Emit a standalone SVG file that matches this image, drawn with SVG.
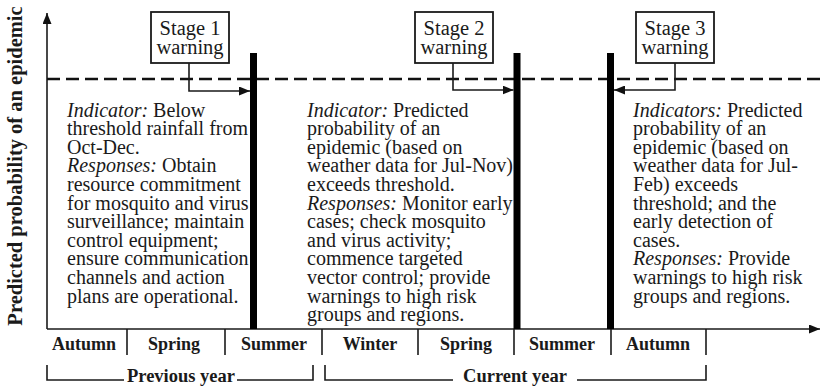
<svg xmlns="http://www.w3.org/2000/svg" width="820" height="386" viewBox="0 0 820 386">
  <style>
    .serif { font-family: "Liberation Serif", "Times New Roman", serif; fill: #1a1a1a; }
    .body { font-size: 20px; }
    .stage { font-size: 20.5px; text-anchor: middle; }
    .season { font-size: 18px; font-weight: bold; text-anchor: middle; }
    .year { font-size: 18.5px; font-weight: bold; text-anchor: middle; }
    .ylabel { font-size: 20.5px; font-weight: bold; text-anchor: middle; }
    .it { font-style: italic; }
    .line { stroke: #1a1a1a; stroke-width: 1.6; fill: none; }
    .box { stroke: #1a1a1a; stroke-width: 1.8; fill: #ffffff; }
    .bar { fill: #000000; }
    .dash { stroke: #111; stroke-width: 2.6; stroke-dasharray: 13 6; fill: none; }
  </style>
  <defs>
    <marker id="arrow" markerUnits="userSpaceOnUse" markerWidth="11" markerHeight="9" refX="11" refY="4.5" orient="auto">
      <path d="M0,0 L11,4.5 L0,9 Z" fill="#111"/>
    </marker>
  </defs>

  <rect width="820" height="386" fill="#ffffff"/>

  <!-- axes -->
  <g id="axes">
    <line class="line" x1="47" y1="329" x2="47" y2="13" marker-end="url(#arrow)"/>
    <line class="line" x1="47" y1="329" x2="820" y2="329" marker-end="url(#arrow)"/>
    <text class="serif ylabel" transform="translate(22,166) rotate(-90)">Predicted probability of an epidemic</text>
  </g>

  <!-- epidemic threshold -->
  <g id="threshold">
    <line class="dash" x1="47" y1="79" x2="820" y2="79"/>
  </g>

  <!-- warning bars -->
  <g id="bars">
    <rect class="bar" x="250" y="53" width="7" height="276"/>
    <rect class="bar" x="513.5" y="53" width="7" height="276"/>
    <rect class="bar" x="607" y="53" width="7" height="276"/>
  </g>

  <!-- connectors -->
  <g id="connectors">
    <polyline class="line" points="189,63 189,91 250,91" marker-end="url(#arrow)"/>
    <polyline class="line" points="453,63 453,90 513.5,90" marker-end="url(#arrow)"/>
    <polyline class="line" points="675,63 675,90 614,90" marker-end="url(#arrow)"/>
  </g>

  <!-- stage boxes -->
  <g id="stage1">
    <rect class="box" x="151" y="12" width="78" height="51"/>
    <text class="serif stage" x="190" y="34.5">Stage 1</text>
    <text class="serif stage" x="190" y="54">warning</text>
  </g>
  <g id="stage2">
    <rect class="box" x="415" y="12" width="78" height="51"/>
    <text class="serif stage" x="454" y="34.5">Stage 2</text>
    <text class="serif stage" x="454" y="54">warning</text>
  </g>
  <g id="stage3">
    <rect class="box" x="636" y="12" width="78" height="51"/>
    <text class="serif stage" x="675" y="34.5">Stage 3</text>
    <text class="serif stage" x="675" y="54">warning</text>
  </g>

  <!-- stage descriptions -->
  <g id="text1">
    <text class="serif body" x="67" y="116.5">
      <tspan class="it">Indicator:</tspan> Below
      <tspan x="67" dy="18.6">threshold rainfall from</tspan>
      <tspan x="67" dy="18.6">Oct-Dec.</tspan>
      <tspan x="67" dy="18.6" class="it">Responses:</tspan> Obtain
      <tspan x="67" dy="18.6">resource commitment</tspan>
      <tspan x="67" dy="18.6">for mosquito and virus</tspan>
      <tspan x="67" dy="18.6">surveillance; maintain</tspan>
      <tspan x="67" dy="18.6">control equipment;</tspan>
      <tspan x="67" dy="18.6">ensure communication</tspan>
      <tspan x="67" dy="18.6">channels and action</tspan>
      <tspan x="67" dy="18.6">plans are operational.</tspan>
    </text>
  </g>
  <g id="text2">
    <text class="serif body" x="307" y="116.5">
      <tspan class="it">Indicator:</tspan> Predicted
      <tspan x="307" dy="18.6">probability of an</tspan>
      <tspan x="307" dy="18.6">epidemic (based on</tspan>
      <tspan x="307" dy="18.6">weather data for Jul-Nov)</tspan>
      <tspan x="307" dy="18.6">exceeds threshold.</tspan>
      <tspan x="307" dy="18.6" class="it">Responses:</tspan> Monitor early
      <tspan x="307" dy="18.6">cases; check mosquito</tspan>
      <tspan x="307" dy="18.6">and virus activity;</tspan>
      <tspan x="307" dy="18.6">commence targeted</tspan>
      <tspan x="307" dy="18.6">vector control; provide</tspan>
      <tspan x="307" dy="18.6">warnings to high risk</tspan>
      <tspan x="307" dy="18.6">groups and regions.</tspan>
    </text>
  </g>
  <g id="text3">
    <text class="serif body" x="633" y="116.5">
      <tspan class="it">Indicators:</tspan> Predicted
      <tspan x="633" dy="18.6">probability of an</tspan>
      <tspan x="633" dy="18.6">epidemic (based on</tspan>
      <tspan x="633" dy="18.6">weather data for Jul-</tspan>
      <tspan x="633" dy="18.6">Feb) exceeds</tspan>
      <tspan x="633" dy="18.6">threshold; and the</tspan>
      <tspan x="633" dy="18.6">early detection of</tspan>
      <tspan x="633" dy="18.6">cases.</tspan>
      <tspan x="633" dy="18.6" class="it">Responses:</tspan> Provide
      <tspan x="633" dy="18.6">warnings to high risk</tspan>
      <tspan x="633" dy="18.6">groups and regions.</tspan>
    </text>
  </g>

  <!-- season scale -->
  <g id="seasons">
    <g class="line">
      <line x1="127" y1="329" x2="127" y2="355"/>
      <line x1="225" y1="329" x2="225" y2="355"/>
      <line x1="322" y1="329" x2="322" y2="355"/>
      <line x1="418" y1="329" x2="418" y2="355"/>
      <line x1="514" y1="329" x2="514" y2="355"/>
      <line x1="611" y1="329" x2="611" y2="355"/>
      <line x1="706" y1="329" x2="706" y2="355"/>
    </g>
    <text class="serif season" x="84" y="350">Autumn</text>
    <text class="serif season" x="174" y="350">Spring</text>
    <text class="serif season" x="274" y="350">Summer</text>
    <text class="serif season" x="370" y="350">Winter</text>
    <text class="serif season" x="466" y="350">Spring</text>
    <text class="serif season" x="562" y="350">Summer</text>
    <text class="serif season" x="658" y="350">Autumn</text>
  </g>

  <!-- year brackets -->
  <g id="years">
    <polyline class="line" points="47,365 47,380 124,380"/>
    <polyline class="line" points="237,380 313,380 313,365"/>
    <text class="serif year" x="181" y="382">Previous year</text>
    <polyline class="line" points="325,365 325,380 453,380"/>
    <polyline class="line" points="577,380 706,380 706,365"/>
    <text class="serif year" x="515" y="382">Current year</text>
  </g>
</svg>
